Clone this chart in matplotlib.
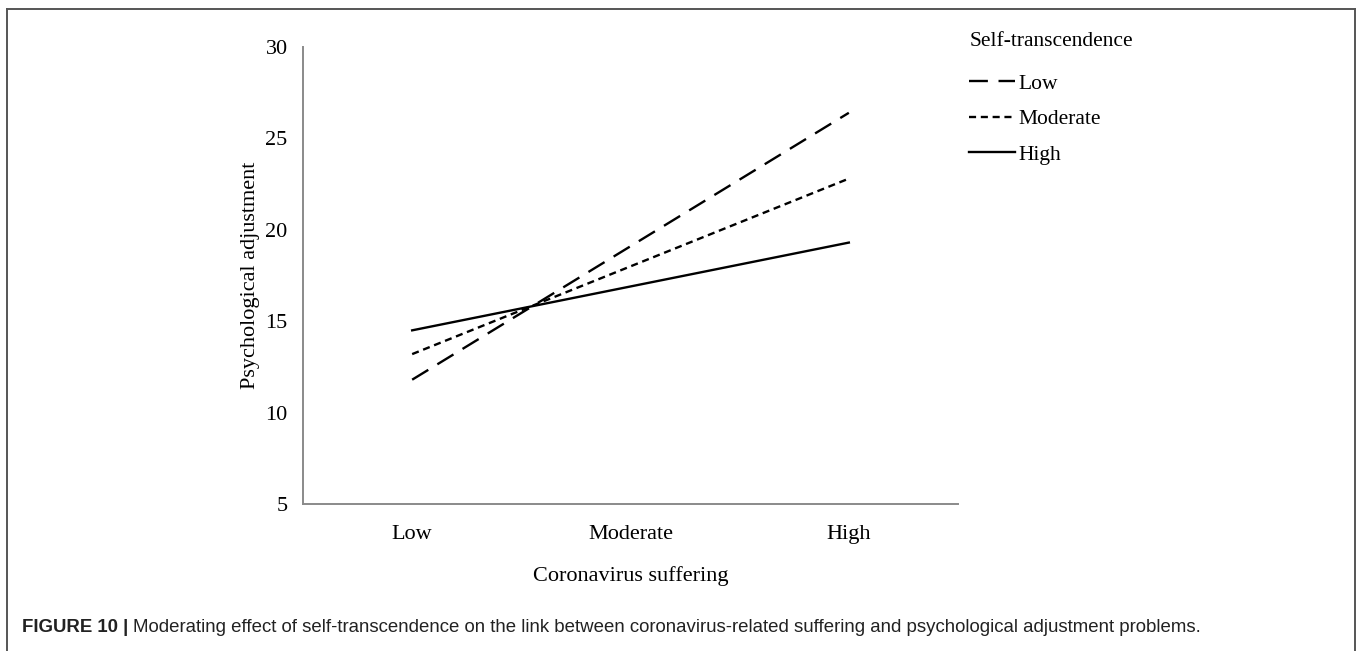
import matplotlib
matplotlib.use("Agg")
import matplotlib.pyplot as plt
from matplotlib.lines import Line2D

# 数据：调节效应的简单斜率（低/高冠状病毒痛苦两端的取值）
x_labels = ['Low', 'Moderate', 'High']
x_pos = [0, 2]  # 直线端点：Low 与 High
series_names = ['Low', 'Moderate', 'High']
low_st = [11.8, 26.4]
moderate_st = [13.2, 22.8]
high_st = [14.5, 19.3]
y_ticks = [5, 10, 15, 20, 25, 30]

plt.rcParams['font.family'] = ['Liberation Serif', 'DejaVu Serif']

fig = plt.figure(figsize=(13.57, 6.51), dpi=100)
W, H = 1357, 651
ax = fig.add_axes([303 / W, 1 - 504 / H, (958 - 303) / W, (504 - 47) / H])

ax.plot(x_pos, low_st, color='black', linewidth=1.7, dashes=(8, 4.5), label=series_names[0])
ax.plot(x_pos, moderate_st, color='black', linewidth=1.7, dashes=(3, 2), label=series_names[1])
ax.plot(x_pos, high_st, color='black', linewidth=1.7, linestyle='-', label=series_names[2])

ax.set_xlim(-0.5, 2.5)
ax.set_ylim(5, 30)
ax.set_xticks(range(len(x_labels)))
ax.set_xticklabels(x_labels)
ax.set_yticks(y_ticks)
ax.tick_params(length=0, labelsize=16, pad=15)
ax.tick_params(axis='y', pad=11)
for s in ['top', 'right']:
    ax.spines[s].set_visible(False)
for s in ['left', 'bottom']:
    ax.spines[s].set_color('#8a8a8a')
    ax.spines[s].set_linewidth(1.4)

ax.set_xlabel('Coronavirus suffering', fontsize=16, labelpad=16)
ax.set_ylabel('Psychological adjustment', fontsize=16, labelpad=4)

# 图例放在右上方（无边框）
leg = fig.legend(loc='upper left', bbox_to_anchor=(950 / W, 1 - 13 / H), frameon=False,
                 title='Self-transcendence', fontsize=15.5, title_fontsize=15.5,
                 handlelength=2.1, handletextpad=0.2, labelspacing=0.72)
leg._legend_box.align = 'left'
leg._legend_box.sep = 16

# 外框（左、上、右）
fc = '#555555'
fig.add_artist(Line2D([7 / W, 7 / W], [0, 1 - 9 / H], color=fc, linewidth=1.4))
fig.add_artist(Line2D([7 / W, 1355 / W], [1 - 9 / H, 1 - 9 / H], color=fc, linewidth=1.4))
fig.add_artist(Line2D([1355 / W, 1355 / W], [0, 1 - 9 / H], color=fc, linewidth=1.4))

# 图注：粗体编号 + 正文
cap_font = ['Liberation Sans', 'DejaVu Sans']
t1 = fig.text(22 / W, 1 - 628 / H, 'FIGURE 10 |', fontsize=13.4, fontweight='bold',
              family=cap_font, color='#222222', va='center')
fig.canvas.draw()
bb = t1.get_window_extent(renderer=fig.canvas.get_renderer())
fig.text((bb.x1 + 5) / W, 1 - 628 / H,
         'Moderating effect of self-transcendence on the link between coronavirus-related suffering and psychological adjustment problems.',
         fontsize=13.4, family=cap_font, color='#222222', va='center')

plt.savefig('out.png', dpi=100)
